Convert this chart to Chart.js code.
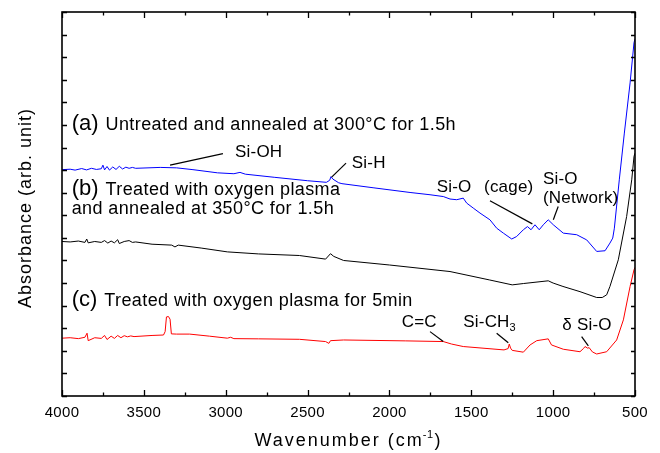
<!DOCTYPE html>
<html>
<head>
<meta charset="utf-8">
<script src="https://cdn.jsdelivr.net/npm/chart.js@4/dist/chart.umd.min.js"></script>
<style>
html,body{margin:0;padding:0;background:#fff;}
canvas{display:block;}
</style>
</head>
<body>
<canvas id="c" width="660" height="453"></canvas>
<script>
// ---- Data (wavenumber in cm^-1, absorbance in arbitrary units) ----
const wnA = [4000,3950,3920,3880,3850,3820,3790,3760,3750,3740,3725,3710,3690,3670,3650,3630,3610,3590,3570,3550,3400,3300,3200,3050,2950,2913,2880,2700,2500,2385,2365,2357,2345,2310,2290,2100,1874,1752,1671,1630,1589,1549,1528,1488,1447,1386,1345,1304,1253,1223,1182,1157,1135,1111,1085,1060,1030,999,938,856,795,734,683,653,636,626,596,565,530,506,500];
const absA = [10.02,10.04,10.00,10.07,10.01,10.08,10.03,10.06,10.22,10.01,10.16,10.00,10.14,10.03,10.17,10.05,10.13,10.08,10.12,10.08,10.12,10.10,10.02,9.88,9.84,9.90,9.82,9.68,9.53,9.46,9.55,9.71,9.60,9.44,9.40,9.22,9.01,8.91,8.83,8.72,8.69,8.76,8.54,8.32,8.10,7.80,7.43,7.21,6.95,7.06,7.36,7.50,7.36,7.58,7.36,7.58,7.80,7.58,7.21,7.14,6.91,6.40,6.43,6.77,6.99,7.43,9.57,11.64,13.86,15.65,15.80];

const wnB = [4000,3950,3900,3860,3849,3840,3800,3760,3740,3720,3700,3680,3660,3650,3620,3590,3570,3550,3450,3330,3310,3290,3150,2990,2800,2550,2390,2360,2340,2280,2000,1630,1390,1250,1180,1030,1000,940,836,734,700,673,653,602,551,520,506,500];
const absB = [6.84,6.82,6.86,6.80,6.95,6.78,6.84,6.80,6.88,6.77,6.86,6.78,6.92,6.75,6.84,6.88,6.80,6.82,6.72,6.68,6.60,6.68,6.55,6.38,6.29,6.22,6.06,6.30,6.18,6.00,5.80,5.51,5.14,4.92,4.98,5.10,5.00,4.85,4.62,4.36,4.36,4.48,4.85,6.03,7.95,9.57,10.61,10.75];

const wnC = [4000,3950,3900,3860,3847,3840,3800,3760,3740,3725,3700,3680,3660,3640,3620,3600,3580,3560,3450,3380,3370,3362,3350,3340,3332,3300,3220,3100,2990,2970,2950,2800,2550,2390,2370,2360,2280,1900,1671,1620,1549,1300,1275,1268,1260,1250,1182,1141,1100,1030,1010,938,836,815,805,790,780,760,734,673,612,571,530,506,500];
const absC = [2.56,2.58,2.54,2.60,2.78,2.45,2.58,2.55,2.68,2.50,2.65,2.55,2.68,2.58,2.67,2.62,2.66,2.63,2.68,2.70,2.85,3.50,3.52,3.40,2.75,2.74,2.74,2.65,2.56,2.60,2.54,2.53,2.51,2.41,2.33,2.45,2.48,2.44,2.41,2.30,2.19,2.04,2.10,2.30,2.12,2.02,1.94,2.26,2.45,2.53,2.26,2.07,1.96,2.10,2.19,2.12,2.14,1.95,1.86,1.96,2.48,3.37,4.85,5.59,5.70];

const xTickValues = [4000,3500,3000,2500,2000,1500,1000,500];
const seriesColors = ['#0000ff','#000000','#ff0000'];

// annotation texts (positions in data units: wavenumber, absorbance)
const sampleLabels = [
  {tag:'(a)', lines:['Untreated and annealed at 300°C for 1.5h'], x:3941, y:11.79},
  {tag:'(b)', lines:['Treated with oxygen plasma','and annealed at 350°C for 1.5h'], x:3941, y:8.91, y2:8.07},
  {tag:'(c)', lines:['Treated with oxygen plasma for 5min'], x:3941, y:3.99}
];
const bandLabels = [
  {text:'Si-OH', x:2943, y:10.58, lx1:3340, ly1:10.22, lx2:3017, ly2:10.73},
  {text:'Si-H', x:2230, y:10.11, lx1:2353, ly1:9.69, lx2:2265, ly2:10.31},
  {text:'Si-O', x:1711, y:9.01},
  {text:'(cage)', x:1422, y:9.02, lx1:1386, ly1:8.64, lx2:1127, ly2:7.62},
  {text:'Si-O', x:1062, y:9.38},
  {text:'(Network)', x:1062, y:8.54, lx1:969, ly1:8.39, lx2:999, ly2:7.80},
  {text:'C=C', x:1925, y:3.07, lx1:1752, ly1:2.85, lx2:1671, ly2:2.41},
  {text:'Si-CH', sub:'3', x:1549, y:3.07, lx1:1345, ly1:2.78, lx2:1274, ly2:2.36},
  {text:'δ Si-O', x:944, y:2.93, lx1:826, ly1:2.63, lx2:785, ly2:2.22}
];

const toPts = (xs, ys) => xs.map((x, i) => ({x: x, y: ys[i]}));

const FONT = '"Liberation Sans", Arial, Helvetica, sans-serif';

const framePlugin = {
  id: 'frameAndText',
  afterDatasetsDraw(chart) {
    const ctx = chart.ctx;
    const a = chart.chartArea;
    const xs = chart.scales.x, ys = chart.scales.y;
    ctx.save();
    ctx.fillStyle = '#000';
    ctx.strokeStyle = '#000';
    // frame
    ctx.lineWidth = 1.6;
    ctx.strokeRect(a.left, a.top, a.right - a.left, a.bottom - a.top);
    // x ticks (inward, top & bottom)
    ctx.lineWidth = 1.3;
    ctx.beginPath();
    xs.ticks.forEach(t => {
      const px = Math.round(xs.getPixelForValue(t.value)) + 0.5;
      const major = t.value % 500 === 0;
      const len = major ? 6 : 3.5;
      ctx.moveTo(px, a.bottom); ctx.lineTo(px, a.bottom - len);
      ctx.moveTo(px, a.top); ctx.lineTo(px, a.top + len);
    });
    // y ticks (inward, left & right)
    ys.ticks.forEach(t => {
      const py = Math.round(ys.getPixelForValue(t.value)) + 0.5;
      ctx.moveTo(a.left, py); ctx.lineTo(a.left + 5, py);
      ctx.moveTo(a.right, py); ctx.lineTo(a.right - 4, py);
    });
    ctx.stroke();

    // x tick labels
    ctx.font = '15px ' + FONT;
    ctx.textAlign = 'center';
    ctx.textBaseline = 'alphabetic';
    ctx.letterSpacing = '0.3px';
    xTickValues.forEach(v => {
      ctx.fillText(String(v), xs.getPixelForValue(v), a.bottom + 21);
    });

    // x title with superscript
    ctx.textAlign = 'left';
    const t1 = 'Wavenumber (cm';
    ctx.font = '18px ' + FONT;
    ctx.letterSpacing = '2px';
    const w1 = ctx.measureText(t1).width;
    ctx.font = '11px ' + FONT;
    ctx.letterSpacing = '0.5px';
    const w2 = ctx.measureText('-1').width;
    ctx.font = '18px ' + FONT;
    ctx.letterSpacing = '2px';
    const w3 = ctx.measureText(')').width;
    const cx = (a.left + a.right) / 2;
    const sx = cx - (w1 + w2 + w3) / 2;
    const by = a.bottom + 50;
    ctx.fillText(t1, sx, by);
    ctx.font = '11px ' + FONT;
    ctx.letterSpacing = '0.5px';
    ctx.fillText('-1', sx + w1 - 1, by - 8);
    ctx.font = '18px ' + FONT;
    ctx.letterSpacing = '2px';
    ctx.fillText(')', sx + w1 + w2, by);

    // y title
    ctx.save();
    ctx.translate(31, (a.top + a.bottom) / 2 + 4);
    ctx.rotate(-Math.PI / 2);
    ctx.textAlign = 'center';
    ctx.font = '18px ' + FONT;
    ctx.letterSpacing = '1px';
    ctx.fillText('Absorbance (arb. unit)', 0, 0);
    ctx.restore();

    // sample labels
    ctx.textAlign = 'left';
    sampleLabels.forEach(s => {
      const px = xs.getPixelForValue(s.x);
      const py = ys.getPixelForValue(s.y);
      ctx.font = '22px ' + FONT;
      ctx.letterSpacing = '0px';
      ctx.fillText(s.tag, px, py);
      const tw = ctx.measureText(s.tag).width;
      ctx.font = '18px ' + FONT;
      ctx.letterSpacing = '0.4px';
      ctx.fillText(s.lines[0], px + tw + 7, py);
      if (s.lines[1]) {
        ctx.fillText(s.lines[1], px, ys.getPixelForValue(s.y2));
      }
    });

    // band labels + leader lines
    ctx.lineWidth = 1.2;
    bandLabels.forEach(b => {
      const px = xs.getPixelForValue(b.x);
      const py = ys.getPixelForValue(b.y);
      ctx.font = '17px ' + FONT;
      ctx.letterSpacing = '0.2px';
      ctx.fillText(b.text, px, py);
      if (b.sub) {
        const w = ctx.measureText(b.text).width;
        ctx.font = '11px ' + FONT;
        ctx.letterSpacing = '0px';
        ctx.fillText(b.sub, px + w, py + 4);
      }
      if (b.lx1 !== undefined) {
        ctx.beginPath();
        ctx.moveTo(xs.getPixelForValue(b.lx1), ys.getPixelForValue(b.ly1));
        ctx.lineTo(xs.getPixelForValue(b.lx2), ys.getPixelForValue(b.ly2));
        ctx.stroke();
      }
    });
    ctx.restore();
  }
};

new Chart(document.getElementById('c'), {
  type: 'line',
  data: {
    datasets: [
      {label: '(a)', data: toPts(wnA, absA), borderColor: seriesColors[0]},
      {label: '(b)', data: toPts(wnB, absB), borderColor: seriesColors[1]},
      {label: '(c)', data: toPts(wnC, absC), borderColor: seriesColors[2]}
    ]
  },
  options: {
    responsive: false,
    animation: false,
    devicePixelRatio: 1,
    layout: {padding: {left: 62, top: 12, right: 25, bottom: 57}},
    elements: {
      line: {borderWidth: 1, tension: 0, fill: false},
      point: {radius: 0, hoverRadius: 0}
    },
    plugins: {legend: {display: false}, tooltip: {enabled: false}},
    scales: {
      x: {
        type: 'linear', reverse: true, min: 500, max: 4000,
        display: false,
        ticks: {stepSize: 250}
      },
      y: {
        type: 'linear', min: 0, max: 17,
        display: false,
        ticks: {stepSize: 1}
      }
    }
  },
  plugins: [framePlugin]
});
</script>
</body>
</html>
